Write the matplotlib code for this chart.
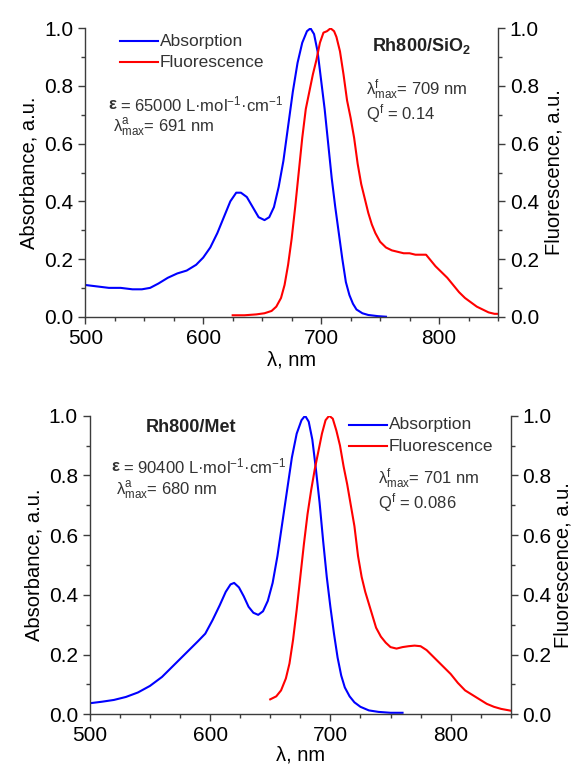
import matplotlib
matplotlib.use("Agg")
import matplotlib.pyplot as plt
from matplotlib.ticker import MultipleLocator

plt.rcParams["font.family"] = ["Liberation Sans", "DejaVu Sans"]
plt.rcParams["mathtext.fontset"] = "custom"
plt.rcParams["mathtext.rm"] = "Liberation Sans"
plt.rcParams["mathtext.bf"] = "Liberation Sans:bold"
plt.rcParams["mathtext.default"] = "regular"

# Rh800 adsorbed on SiO2
sio2_abs_wl = [500, 510, 520, 530, 540, 548, 555, 562, 570, 578, 586, 594, 600, 606,
               612, 618, 623, 628, 632, 637, 642, 647, 652, 656, 660, 664, 668, 672,
               676, 680, 684, 688, 691, 694, 697, 700, 703, 706, 709, 712, 715, 718,
               721, 724, 727, 730, 735, 740, 748, 755]
sio2_abs = [0.11, 0.105, 0.10, 0.10, 0.095, 0.095, 0.10, 0.115, 0.135, 0.15, 0.16, 0.18,
            0.205, 0.24, 0.29, 0.35, 0.40, 0.43, 0.43, 0.415, 0.38, 0.345, 0.335, 0.345,
            0.38, 0.45, 0.54, 0.66, 0.78, 0.88, 0.95, 0.99, 1.0, 0.98, 0.92, 0.82, 0.72,
            0.60, 0.48, 0.38, 0.29, 0.20, 0.12, 0.075, 0.045, 0.025, 0.012, 0.006, 0.002, 0.0]

sio2_fl_wl = [625, 635, 645, 652, 658, 662, 666, 669, 672, 675, 678, 681, 684, 687, 690,
              693, 696, 699, 702, 705, 708, 711, 713, 716, 719, 722, 725, 728, 731, 734,
              737, 740, 743, 746, 750, 755, 760, 765, 770, 775, 780, 785, 789, 793, 797,
              802, 807, 812, 817, 822, 827, 832, 837, 842, 847, 850]
sio2_fl = [0.005, 0.005, 0.008, 0.012, 0.02, 0.035, 0.065, 0.11, 0.18, 0.27, 0.38, 0.50,
           0.62, 0.72, 0.78, 0.84, 0.89, 0.95, 0.985, 0.99, 1.0, 0.99, 0.97, 0.92, 0.84,
           0.75, 0.69, 0.62, 0.53, 0.46, 0.41, 0.36, 0.32, 0.29, 0.26, 0.24, 0.23, 0.225,
           0.22, 0.22, 0.215, 0.215, 0.215, 0.195, 0.175, 0.155, 0.135, 0.11, 0.085,
           0.065, 0.05, 0.035, 0.025, 0.015, 0.01, 0.01]

# Rh800 in methanol
met_abs_wl = [500, 510, 520, 530, 540, 550, 560, 570, 580, 590, 596, 602, 608, 613, 617,
              620, 624, 628, 632, 636, 640, 644, 648, 652, 656, 660, 664, 668, 672, 676,
              679, 682, 685, 688, 691, 694, 697, 700, 703, 706, 709, 712, 716, 720, 725,
              732, 740, 750, 760]
met_abs = [0.037, 0.042, 0.048, 0.058, 0.073, 0.095, 0.125, 0.165, 0.205, 0.245, 0.27,
           0.315, 0.365, 0.41, 0.435, 0.44, 0.425, 0.395, 0.36, 0.34, 0.333, 0.345, 0.38,
           0.44, 0.53, 0.64, 0.75, 0.86, 0.94, 0.985, 1.0, 0.98, 0.92, 0.82, 0.71, 0.58,
           0.46, 0.36, 0.27, 0.19, 0.13, 0.09, 0.06, 0.04, 0.025, 0.013, 0.008, 0.005, 0.005]

met_fl_wl = [650, 655, 659, 663, 666, 669, 672, 675, 678, 681, 684, 687, 690, 693, 696,
             699, 702, 705, 708, 711, 714, 717, 720, 723, 726, 729, 732, 735, 738, 742,
             746, 750, 755, 760, 765, 770, 775, 780, 785, 790, 795, 800, 806, 812, 818,
             824, 830, 836, 842, 850]
met_fl = [0.05, 0.06, 0.08, 0.12, 0.17, 0.25, 0.35, 0.46, 0.57, 0.67, 0.75, 0.82, 0.88,
          0.94, 0.985, 1.0, 0.99, 0.95, 0.90, 0.83, 0.77, 0.70, 0.63, 0.53, 0.46, 0.41,
          0.37, 0.33, 0.29, 0.26, 0.24, 0.225, 0.22, 0.225, 0.228, 0.23, 0.228, 0.215,
          0.195, 0.175, 0.155, 0.135, 0.105, 0.08, 0.065, 0.05, 0.035, 0.025, 0.018, 0.012]

ticks_x = [500, 600, 700, 800]
ticks_y = [0.0, 0.2, 0.4, 0.6, 0.8, 1.0]

spine_col = "#3c3c3c"
note_col = "#333333"


def style_axes(ax, ax2, xpad=2, rpad=4):
    for a in (ax, ax2):
        a.spines["top"].set_visible(False)
        for s in ("left", "right", "bottom"):
            a.spines[s].set_color(spine_col)
            a.spines[s].set_linewidth(1.0)
        a.set_ylim(0, 1.0)
        a.set_yticks(ticks_y)
        a.set_yticklabels(["%.1f" % t for t in ticks_y])
        a.yaxis.set_minor_locator(MultipleLocator(0.1))
        a.tick_params(which="both", direction="out", color=spine_col, labelsize=15)
        a.tick_params(which="major", length=5, width=1.0)
        a.tick_params(which="minor", length=3, width=1.0)
    ax.spines["right"].set_visible(False)
    ax2.spines["left"].set_visible(False)
    ax2.spines["bottom"].set_visible(False)
    ax.set_xlim(500, 850)
    ax.set_xticks(ticks_x)
    ax.xaxis.set_minor_locator(MultipleLocator(25))
    ax.set_xlabel("λ, nm", fontsize=14.5, labelpad=xpad)
    ax.set_ylabel("Absorbance, a.u.", fontsize=14.5, labelpad=4)
    ax2.set_ylabel("Fluorescence, a.u.", fontsize=14.5, labelpad=rpad)


def legend_lines(ax, x0, y0, dy):
    # hand placed legend: short line + label, in axes fraction
    for i, (lab, col) in enumerate([("Absorption", "blue"), ("Fluorescence", "red")]):
        y = y0 - i * dy
        ax.plot([x0, x0 + 0.09], [y, y], color=col, lw=1.5, transform=ax.transAxes,
                clip_on=False)
        ax.text(x0 + 0.095, y, lab, transform=ax.transAxes, fontsize=12.5,
                va="center", ha="left", color=note_col)


def notes(ax, xa, ya, eps, lam_a, xf, yf, lam_f, qf, dy):
    ax.text(xa, ya, "ε", transform=ax.transAxes, fontsize=12, fontweight="bold",
            va="center", ha="left", color=note_col)
    ax.text(xa + 0.028, ya, "= %s L·mol$^{-1}$·cm$^{-1}$" % eps, transform=ax.transAxes,
            fontsize=12, va="center", ha="left", color=note_col)
    ax.text(xa + 0.01, ya - dy, "λ$^{a}_{max}$= %s nm" % lam_a, transform=ax.transAxes,
            fontsize=12, va="center", ha="left", color=note_col)
    ax.text(xf, yf, "λ$^{f}_{max}$= %s nm" % lam_f, transform=ax.transAxes,
            fontsize=12, va="center", ha="left", color=note_col)
    ax.text(xf, yf - dy, "Q$^{f}$ = %s" % qf, transform=ax.transAxes,
            fontsize=12, va="center", ha="left", color=note_col)


fig = plt.figure(figsize=(5.72, 7.65), dpi=100)

# upper panel
ax1 = fig.add_axes([0.1491, 0.586, 0.7215, 0.377])
ax1b = ax1.twinx()
ax1.plot(sio2_abs_wl, sio2_abs, color="blue", lw=1.5)
ax1b.plot(sio2_fl_wl, sio2_fl, color="red", lw=1.5)
style_axes(ax1, ax1b)
legend_lines(ax1, 0.085, 0.955, 0.072)
ax1.text(0.815, 0.94, "Rh800/SiO$_\\mathbf{2}$", transform=ax1.transAxes, fontsize=13,
         fontweight="bold", va="center", ha="center", color="#222222")
notes(ax1, 0.056, 0.737, "65000", "691", 0.68, 0.787, "709", "0.14", 0.082)

# lower panel
ax2 = fig.add_axes([0.157, 0.0663, 0.736, 0.3903])
ax2b = ax2.twinx()
ax2.plot(met_abs_wl, met_abs, color="blue", lw=1.5)
ax2b.plot(met_fl_wl, met_fl, color="red", lw=1.5)
style_axes(ax2, ax2b, xpad=0, rpad=1)
legend_lines(ax2, 0.615, 0.97, 0.072)
ax2.text(0.24, 0.962, "Rh800/Met", transform=ax2.transAxes, fontsize=13,
         fontweight="bold", va="center", ha="center", color="#222222")
notes(ax2, 0.052, 0.83, "90400", "680", 0.685, 0.79, "701", "0.086", 0.082)

fig.savefig("out.png", dpi=100)
